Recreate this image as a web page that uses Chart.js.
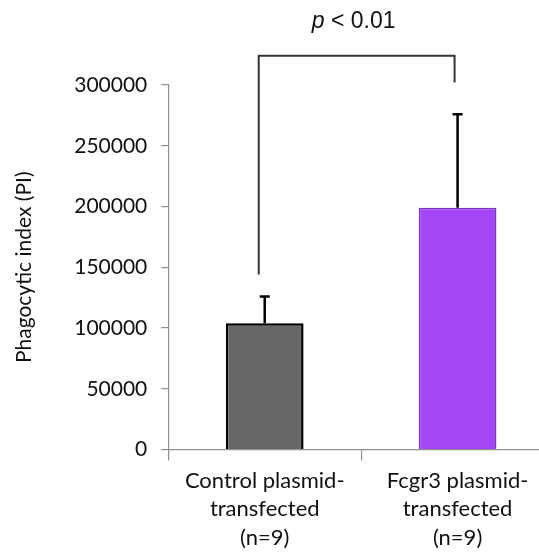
<!DOCTYPE html>
<html>
<head>
<meta charset="utf-8">
<script src="https://cdn.jsdelivr.net/npm/chart.js@4.4.1/dist/chart.umd.min.js"></script>
<style>
  html, body { margin:0; padding:0; background:#fff; overflow:hidden; }
  #wrap { width:554px; height:553px; }
</style>
</head>
<body>
<div id="wrap"><canvas id="piChart" width="554" height="553"></canvas></div>
<script>
// data
var groupLabels = [
    ["Control plasmid-", "transfected", "(n=9)"],
    ["Fcgr3 plasmid-", "transfected", "(n=9)"]
]
var meanPI = [104000, 199000]
var sdPI = [22000, 77000]
var yTicks = [0, 50000, 100000, 150000, 200000, 250000, 300000]
var pText = "< 0.01"
// bracket: [left leg bottom, right leg bottom, top bar]
var bracketVals = [144000, 302000, 324000]

var errorBars = {
    id:"errorBars",
    afterDatasetsDraw:function(chart){
        let ctx = chart.ctx
        let y = chart.scales.y
        let meta = chart.getDatasetMeta(0)
        ctx.save()
        ctx.strokeStyle = "#000"
        ctx.lineWidth = 2.5
        meta.data.forEach(function(bar, i){
            let top = y.getPixelForValue(meanPI[i] + sdPI[i])
            ctx.beginPath()
            ctx.moveTo(bar.x, bar.y)
            ctx.lineTo(bar.x, top)
            ctx.moveTo(bar.x - 5, top)
            ctx.lineTo(bar.x + 5, top)
            ctx.stroke()
        })
        ctx.restore()
    }
}

var sigBracket = {
    id:"sigBracket",
    afterDraw:function(chart){
        let ctx = chart.ctx
        let x = chart.scales.x
        let y = chart.scales.y
        let x1 = x.getPixelForValue(0) - 6
        let x2 = x.getPixelForValue(1) - 3
        let yTop = y.getPixelForValue(bracketVals[2])
        ctx.save()
        ctx.strokeStyle = "#333"
        ctx.lineWidth = 2
        ctx.beginPath()
        ctx.moveTo(x1, y.getPixelForValue(bracketVals[0]))
        ctx.lineTo(x1, yTop)
        ctx.lineTo(x2, yTop)
        ctx.lineTo(x2, y.getPixelForValue(bracketVals[1]))
        ctx.stroke()

        // "p < 0.01" with italic p
        ctx.fillStyle = "#111"
        ctx.textBaseline = "middle"
        ctx.font = "italic 23px 'Liberation Sans'"
        let pw = ctx.measureText("p ").width
        ctx.font = "23px 'Liberation Sans'"
        let rw = ctx.measureText(pText).width
        let start = (x1 + x2) / 2 - 3 - (pw + rw) / 2
        let ty = yTop - 34
        ctx.font = "italic 23px 'Liberation Sans'"
        ctx.fillText("p", start, ty)
        ctx.font = "23px 'Liberation Sans'"
        ctx.fillText(pText, start + pw, ty)
        ctx.restore()
    }
}

var piChart = new Chart(document.getElementById("piChart"), {
    type:"bar",
    data:{
        labels:groupLabels,
        datasets:[{
            data:meanPI,
            backgroundColor:["#676767", "#a346f5"],
            borderColor:["#000000", "#7b35b8"],
            borderWidth:[2.5, 1.5],
            categoryPercentage:1,
            barPercentage:0.403
        }]
    },
    options:{
        responsive:false,
        animation:false,
        layout:{ padding:{ top:85, left:0, right:0, bottom:0 } },
        plugins:{ legend:{ display:false }, tooltip:{ enabled:false } },
        scales:{
            x:{
                afterFit:function(scale){ scale.height = 103.5 },
                grid:{ drawOnChartArea:false, tickLength:11, color:"#8f8f8f", lineWidth:1.2 },
                border:{ color:"#8f8f8f", width:1.2 },
                ticks:{ color:"#111", padding:6, font:{ family:"Lato", size:22, lineHeight:1.3 }, maxRotation:0 }
            },
            y:{
                min:0,
                max:300000,
                afterFit:function(scale){ scale.width = 168.3 },
                afterBuildTicks:function(scale){ scale.ticks = yTicks.map(function(v){ return {value:v} }) },
                grid:{ drawOnChartArea:false, tickLength:7, color:"#8f8f8f", lineWidth:1.2 },
                border:{ color:"#8f8f8f", width:1.2 },
                ticks:{
                    color:"#111", padding:14,
                    font:{ family:"Lato", size:21 },
                    callback:function(v){ return String(v) }
                },
                title:{
                    display:true,
                    text:"Phagocytic index (PI)",
                    color:"#111",
                    font:{ family:"Lato", size:21 },
                    padding:{ top:12, bottom:0 }
                }
            }
        }
    },
    plugins:[errorBars, sigBracket]
})
</script>
</body>
</html>
